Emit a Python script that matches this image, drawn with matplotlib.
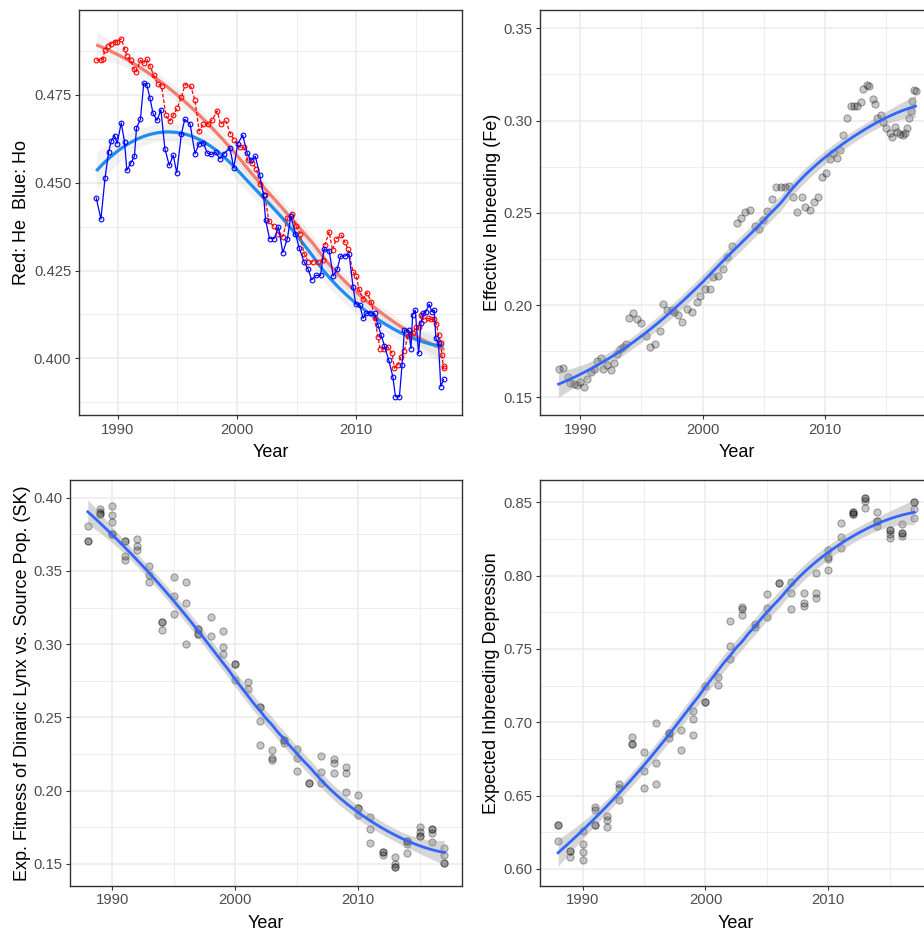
import numpy as np
import matplotlib
matplotlib.use("Agg")
import matplotlib.pyplot as plt
from matplotlib.ticker import FixedLocator, FormatStrFormatter

plt.rcParams['font.family'] = ['Liberation Sans', 'DejaVu Sans']

# ---------------- Panel 1: He (red) and Ho (blue) ----------------
ho_year = [1988.19, 1988.58, 1988.92, 1989.22, 1989.44, 1989.72, 1989.94, 1990.28, 1990.56, 1990.75,
           1991.11, 1991.39, 1991.56, 1991.89, 1992.17, 1992.42, 1992.69, 1992.94, 1993.28, 1993.61,
           1993.94, 1994.31, 1994.64, 1994.94, 1995.33, 1995.61, 1996.06, 1996.47, 1996.81, 1997.17,
           1997.50, 1997.83, 1998.19, 1998.56, 1998.89, 1999.39, 1999.72, 2000.06, 2000.47, 2000.83,
           2001.17, 2001.53, 2001.89, 2002.22, 2002.39, 2002.72, 2003.11, 2003.47, 2003.83, 2004.22,
           2004.50, 2004.89, 2005.22, 2005.61, 2005.97, 2006.25, 2006.61, 2007.00, 2007.28, 2007.72,
           2008.06, 2008.39, 2008.67, 2009.03, 2009.39, 2009.72, 2009.94, 2010.28, 2010.56, 2010.83,
           2011.17, 2011.53, 2011.81, 2012.08, 2012.36, 2012.72, 2013.06, 2013.28, 2013.61, 2013.83,
           2014.03, 2014.39, 2014.58, 2014.72, 2014.94, 2015.22, 2015.42, 2015.61, 2015.83, 2016.11,
           2016.33, 2016.53, 2016.67, 2016.89, 2017.08, 2017.31]
ho_val = [0.4456, 0.4396, 0.4512, 0.4586, 0.4618, 0.4634, 0.4611, 0.4670, 0.4616, 0.4535,
          0.4557, 0.4575, 0.4655, 0.4680, 0.4783, 0.4779, 0.4741, 0.4698, 0.4677, 0.4707,
          0.4597, 0.4549, 0.4578, 0.4528, 0.4639, 0.4680, 0.4666, 0.4582, 0.4611, 0.4613,
          0.4584, 0.4580, 0.4586, 0.4568, 0.4582, 0.4599, 0.4542, 0.4611, 0.4635, 0.4585,
          0.4563, 0.4575, 0.4523, 0.4464, 0.4393, 0.4341, 0.4341, 0.4374, 0.4301, 0.4341,
          0.4404, 0.4355, 0.4313, 0.4275, 0.4253, 0.4223, 0.4236, 0.4236, 0.4310, 0.4306,
          0.4234, 0.4253, 0.4291, 0.4291, 0.4296, 0.4204, 0.4156, 0.4152, 0.4114, 0.4128,
          0.4130, 0.4128, 0.4095, 0.4066, 0.4035, 0.3995, 0.3948, 0.3891, 0.3891, 0.3981,
          0.4080, 0.4080, 0.4028, 0.4123, 0.4137, 0.4014, 0.4101, 0.4128, 0.4133, 0.4154,
          0.4133, 0.4137, 0.4057, 0.4043, 0.3920, 0.3940]

he_year = [1988.19, 1988.56, 1988.75, 1988.89, 1989.17, 1989.44, 1989.72, 1989.94, 1990.28, 1990.56,
           1990.78, 1991.06, 1991.33, 1991.53, 1991.89, 1992.17, 1992.42, 1992.69, 1993.00, 1993.33,
           1993.67, 1994.03, 1994.36, 1994.64, 1995.00, 1995.33, 1995.64, 1996.11, 1996.47, 1996.81,
           1997.17, 1997.56, 1997.92, 1998.33, 1998.61, 1999.03, 1999.44, 1999.78, 2000.22, 2000.56,
           2000.89, 2001.25, 2001.61, 2001.94, 2002.31, 2002.67, 2003.06, 2003.47, 2003.83, 2004.22,
           2004.58, 2004.94, 2005.28, 2005.61, 2005.97, 2006.39, 2006.81, 2007.17, 2007.36, 2007.72,
           2008.00, 2008.33, 2008.75, 2009.03, 2009.31, 2009.72, 2010.00, 2010.22, 2010.56, 2010.89,
           2011.25, 2011.53, 2011.81, 2012.00, 2012.36, 2012.64, 2013.00, 2013.19, 2013.47, 2013.75,
           2014.03, 2014.31, 2014.50, 2014.72, 2015.00, 2015.22, 2015.42, 2015.69, 2015.97, 2016.25,
           2016.53, 2016.72, 2016.89, 2017.08, 2017.17, 2017.31, 2017.39]
he_val = [0.4849, 0.4848, 0.4852, 0.4876, 0.4890, 0.4895, 0.4900, 0.4900, 0.4909, 0.4881,
          0.4859, 0.4849, 0.4824, 0.4815, 0.4848, 0.4840, 0.4852, 0.4833, 0.4805, 0.4781,
          0.4774, 0.4691, 0.4675, 0.4691, 0.4713, 0.4743, 0.4779, 0.4774, 0.4734, 0.4647,
          0.4666, 0.4668, 0.4679, 0.4704, 0.4666, 0.4677, 0.4639, 0.4620, 0.4601, 0.4601,
          0.4563, 0.4556, 0.4540, 0.4497, 0.4464, 0.4390, 0.4376, 0.4355, 0.4346, 0.4398,
          0.4412, 0.4376, 0.4355, 0.4298, 0.4275, 0.4275, 0.4275, 0.4279, 0.4322, 0.4360,
          0.4308, 0.4341, 0.4350, 0.4331, 0.4310, 0.4246, 0.4234, 0.4196, 0.4170, 0.4187,
          0.4161, 0.4114, 0.4062, 0.4026, 0.4028, 0.4033, 0.4014, 0.3972, 0.3981, 0.4005,
          0.4022, 0.4063, 0.4069, 0.4071, 0.4090, 0.4088, 0.4123, 0.4109, 0.4114, 0.4111,
          0.4111, 0.4098, 0.4066, 0.4045, 0.4009, 0.3972, 0.3978]

# ---------------- Panel 2: Effective inbreeding (Fe) ----------------
fe_year = [1988.23, 1988.58, 1988.97, 1989.18, 1989.46, 1989.73, 1989.95, 1990.33, 1990.54, 1990.87,
           1991.09, 1991.36, 1991.69, 1991.90, 1992.18, 1992.50, 1992.72, 1992.99, 1993.27, 1993.48,
           1993.70, 1994.00, 1994.30, 1994.68, 1994.98, 1995.36, 1995.71, 1996.07, 1996.48, 1996.80,
           1997.13, 1997.48, 1997.67, 1998.00, 1998.30, 1998.71, 1999.12, 1999.52, 1999.80, 2000.20,
           2000.61, 2000.88, 2001.29, 2001.70, 2001.97, 2002.38, 2002.79, 2003.12, 2003.47, 2003.88,
           2004.29, 2004.61, 2004.97, 2005.24, 2005.70, 2006.00, 2006.38, 2006.73, 2007.06, 2007.36,
           2007.69, 2008.10, 2008.37, 2008.78, 2009.10, 2009.40, 2009.78, 2010.08, 2010.41, 2010.68,
           2010.95, 2011.22, 2011.50, 2011.77, 2012.10, 2012.37, 2012.65, 2012.92, 2013.13, 2013.40,
           2013.62, 2013.89, 2014.08, 2014.27, 2014.54, 2014.76, 2014.98, 2015.31, 2015.50, 2015.71,
           2015.90, 2016.12, 2016.34, 2016.53, 2016.72, 2016.88, 2016.99, 2017.12, 2017.26, 2017.39]
fe_val = [0.1654, 0.1661, 0.1608, 0.1580, 0.1572, 0.1567, 0.1581, 0.1554, 0.1599, 0.1639,
          0.1654, 0.1699, 0.1711, 0.1654, 0.1675, 0.1648, 0.1688, 0.1733, 0.1760, 0.1775,
          0.1787, 0.1928, 0.1955, 0.1925, 0.1901, 0.1834, 0.1775, 0.1787, 0.1861, 0.2006,
          0.1973, 0.1973, 0.1964, 0.1946, 0.1907, 0.1977, 0.1961, 0.2019, 0.2051, 0.2085,
          0.2085, 0.2154, 0.2158, 0.2194, 0.2263, 0.2322, 0.2443, 0.2470, 0.2503, 0.2516,
          0.2431, 0.2411, 0.2461, 0.2512, 0.2575, 0.2642, 0.2642, 0.2642, 0.2647, 0.2584,
          0.2505, 0.2588, 0.2530, 0.2516, 0.2557, 0.2588, 0.2696, 0.2718, 0.2790, 0.2823,
          0.2796, 0.2841, 0.2922, 0.3016, 0.3076, 0.3076, 0.3076, 0.3103, 0.3170, 0.3193,
          0.3188, 0.3115, 0.3088, 0.3012, 0.3031, 0.2994, 0.2962, 0.2935, 0.2909, 0.2964,
          0.2937, 0.2928, 0.2922, 0.2931, 0.2958, 0.3012, 0.3049, 0.3108, 0.3166, 0.3162]

# ---------------- Panel 3: Expected fitness vs source population ----------------
fit_year = [1988, 1988, 1988, 1989, 1989, 1989, 1989, 1990, 1990, 1990, 1990, 1990,
            1991, 1991, 1991, 1991, 1992, 1992, 1992, 1993, 1993, 1993, 1994, 1994, 1994,
            1995, 1995, 1995, 1996, 1996, 1996, 1997, 1997, 1997, 1997, 1998, 1998,
            1999, 1999, 1999, 2000, 2000, 2000, 2001, 2001, 2002, 2002, 2002, 2002,
            2003, 2003, 2003, 2004, 2004, 2004, 2005, 2005, 2005, 2006, 2006,
            2007, 2007, 2007, 2008, 2008, 2008, 2009, 2009, 2009, 2010, 2010, 2010, 2010,
            2011, 2011, 2011, 2012, 2012, 2012, 2013, 2013, 2013, 2013,
            2014, 2014, 2014, 2014, 2015, 2015, 2015, 2015, 2016, 2016, 2016, 2016,
            2017, 2017, 2017, 2017]
fit_val = [0.3809, 0.3704, 0.3704, 0.3920, 0.3905, 0.3886, 0.3886, 0.3941, 0.3882, 0.3832, 0.3752, 0.3752,
           0.3704, 0.3704, 0.3604, 0.3574, 0.3718, 0.3672, 0.3640, 0.3533, 0.3472, 0.3422, 0.3153, 0.3153, 0.3096,
           0.3456, 0.3328, 0.3205, 0.3422, 0.3283, 0.3003, 0.3103, 0.3103, 0.3069, 0.3069, 0.3187, 0.3055,
           0.3089, 0.2980, 0.2930, 0.2862, 0.2862, 0.2755, 0.2743, 0.2693, 0.2568, 0.2568, 0.2477, 0.2311,
           0.2274, 0.2224, 0.2206, 0.2342, 0.2342, 0.2324, 0.2283, 0.2224, 0.2135, 0.2049, 0.2049,
           0.2235, 0.2128, 0.2049, 0.2213, 0.2190, 0.2117, 0.2160, 0.2117, 0.1992, 0.1967, 0.1883, 0.1883, 0.1832,
           0.1817, 0.1735, 0.1643, 0.1582, 0.1582, 0.1559, 0.1548, 0.1498, 0.1475, 0.1475,
           0.1657, 0.1657, 0.1634, 0.1575, 0.1753, 0.1719, 0.1689, 0.1689, 0.1735, 0.1735, 0.1712, 0.1650,
           0.1609, 0.1559, 0.1502, 0.1502]

# ---------------- Panel 4: Expected inbreeding depression ----------------
idp_year = [1988, 1988, 1988, 1989, 1989, 1989, 1990, 1990, 1990, 1990,
            1991, 1991, 1991, 1991, 1992, 1992, 1992, 1993, 1993, 1993, 1994, 1994, 1994,
            1995, 1995, 1995, 1996, 1996, 1996, 1997, 1997, 1997, 1998, 1998,
            1999, 1999, 1999, 2000, 2000, 2000, 2001, 2001, 2002, 2002, 2002,
            2003, 2003, 2003, 2004, 2004, 2005, 2005, 2005, 2006, 2006,
            2007, 2007, 2007, 2008, 2008, 2008, 2009, 2009, 2009, 2010, 2010, 2010, 2010,
            2011, 2011, 2011, 2012, 2012, 2012, 2012, 2013, 2013, 2013, 2013,
            2014, 2014, 2014, 2014, 2015, 2015, 2015, 2015, 2016, 2016, 2016, 2016,
            2017, 2017, 2017, 2017]
idp_val = [0.6300, 0.6300, 0.6193, 0.6125, 0.6125, 0.6084, 0.6261, 0.6168, 0.6118, 0.6059,
           0.6425, 0.6402, 0.6300, 0.6300, 0.6361, 0.6334, 0.6289, 0.6577, 0.6550, 0.6470, 0.6902, 0.6855, 0.6855,
           0.6796, 0.6671, 0.6555, 0.6993, 0.6721, 0.6577, 0.6930, 0.6930, 0.6896, 0.6946, 0.6811,
           0.7077, 0.7021, 0.6914, 0.7250, 0.7137, 0.7137, 0.7312, 0.7255, 0.7691, 0.7521, 0.7432,
           0.7789, 0.7771, 0.7732, 0.7671, 0.7648, 0.7873, 0.7782, 0.7721, 0.7948, 0.7948,
           0.7959, 0.7880, 0.7773, 0.7880, 0.7812, 0.7793, 0.8016, 0.7880, 0.7846, 0.8175, 0.8130, 0.8112, 0.8039,
           0.8357, 0.8266, 0.8187, 0.8437, 0.8437, 0.8421, 0.8421, 0.8528, 0.8528, 0.8512, 0.8459,
           0.8432, 0.8373, 0.8373, 0.8341, 0.8312, 0.8312, 0.8282, 0.8255, 0.8350, 0.8289, 0.8289, 0.8271,
           0.8505, 0.8505, 0.8453, 0.8391]

x_ticks = [1990, 2000, 2010]


def loess(x, y, grid, span=0.75):
    """Local quadratic regression (tricube weights) with an approximate 95% band."""
    x = np.asarray(x, float)
    y = np.asarray(y, float)
    n = len(x)
    q = int(np.floor(n * span))

    def row(x0):
        d = np.abs(x - x0)
        h = np.sort(d)[q - 1]
        u = np.clip(d / h, 0, 1)
        w = (1 - u ** 3) ** 3
        X = np.column_stack([np.ones(n), x - x0, (x - x0) ** 2])
        XtW = X.T * w
        return np.linalg.solve(XtW @ X, XtW)[0]

    L = np.array([row(v) for v in x])
    res = y - L @ y
    M = (np.eye(n) - L).T @ (np.eye(n) - L)
    d1 = np.trace(M)
    d2 = np.trace(M @ M)
    sigma = np.sqrt(np.sum(res ** 2) / d1)
    df = d1 ** 2 / d2
    Lg = np.array([row(v) for v in grid])
    yg = Lg @ y
    se = sigma * np.sqrt(np.sum(Lg ** 2, axis=1))
    t = 1.96 + 2.4 / df
    return yg, se * t


W, H = 924, 933
fig = plt.figure(figsize=(W / 100, H / 100), dpi=100)
fig.patch.set_facecolor('white')


def make_axes(left, top, right, bottom):
    return fig.add_axes([left / W, 1 - bottom / H, (right - left) / W, (bottom - top) / H])


def style(ax, xlim, ylim, yticks, yminor, fmt, ylabel, ylab_x):
    ax.set_xlim(*xlim)
    ax.set_ylim(*ylim)
    ax.xaxis.set_major_locator(FixedLocator(x_ticks))
    ax.xaxis.set_minor_locator(FixedLocator([1995, 2005, 2015]))
    ax.yaxis.set_major_locator(FixedLocator(yticks))
    ax.yaxis.set_minor_locator(FixedLocator(yminor))
    ax.yaxis.set_major_formatter(FormatStrFormatter(fmt))
    ax.grid(True, which='major', color='#EBEBEB', lw=1.1, zorder=0)
    ax.grid(True, which='minor', color='#EBEBEB', lw=0.6, zorder=0)
    ax.set_axisbelow(True)
    for s in ax.spines.values():
        s.set_color('#333333')
        s.set_linewidth(1.0)
    ax.tick_params(which='major', length=3, width=0.8, color='#333333',
                   labelsize=10.7, labelcolor='#4D4D4D', pad=2.5)
    ax.tick_params(which='minor', length=0)
    ax.set_xlabel('Year', fontsize=13, color='black')
    ax.set_ylabel(ylabel, fontsize=13, color='black')
    ax.xaxis.set_label_coords(0.5, -0.072)
    ax.yaxis.set_label_coords(ylab_x, 0.5)


# ---- Panel 1
ax1 = make_axes(79, 10, 462, 415)
for yr, vl, sc in [(he_year, he_val, '#F47C6F'), (ho_year, ho_val, '#1E8CF0')]:
    g = np.linspace(min(yr), max(yr), 120)
    f, ci = loess(yr, vl, g)
    ax1.fill_between(g, f - ci, f + ci, color='#999999', alpha=0.12, lw=0, zorder=1)
    ax1.plot(g, f, color=sc, lw=2.3, zorder=2, solid_capstyle='butt')
for yr, vl, lc, ls in [(he_year, he_val, 'red', (0, (3, 1.5))), (ho_year, ho_val, 'blue', '-')]:
    ax1.plot(yr, vl, color=lc, lw=0.9, ls=ls, marker='o', ms=3.4, mfc='none', mec=lc,
             mew=0.8, zorder=3)
style(ax1, (1986.74, 2018.86), (0.3839, 0.4991), [0.400, 0.425, 0.450, 0.475],
      [0.3875, 0.4125, 0.4375, 0.4625, 0.4875], '%.3f', 'Red: He  Blue: Ho', -0.128)


def scatter_panel(ax, yr, vl):
    ax.scatter(yr, vl, s=27, facecolor=(0, 0, 0, 0.22), edgecolor=(0, 0, 0, 0.35),
               linewidths=0.7, zorder=2)
    g = np.linspace(min(yr), max(yr), 120)
    f, ci = loess(yr, vl, g)
    ax.fill_between(g, f - ci, f + ci, color='#999999', alpha=0.4, lw=0, zorder=3)
    ax.plot(g, f, color='#3366FF', lw=2.0, zorder=4)


# ---- Panel 2
ax2 = make_axes(540.3, 10, 933.5, 415)
scatter_panel(ax2, fe_year, fe_val)
style(ax2, (1986.74, 2018.86), (0.1404, 0.3599), [0.15, 0.20, 0.25, 0.30, 0.35],
      [0.175, 0.225, 0.275, 0.325], '%.2f', 'Effective Inbreeding (Fe)', -0.100)

# ---- Panel 3
ax3 = make_axes(70, 480, 462, 885.7)
scatter_panel(ax3, fit_year, fit_val)
style(ax3, (1986.55, 2018.45), (0.135, 0.4121), [0.15, 0.20, 0.25, 0.30, 0.35, 0.40],
      [0.175, 0.225, 0.275, 0.325, 0.375], '%.2f',
      'Exp. Fitness of Dinaric Lynx vs. Source Pop. (SK)', -0.100)

# ---- Panel 4
ax4 = make_axes(540.3, 480, 932, 885.7)
scatter_panel(ax4, idp_year, idp_val)
style(ax4, (1986.55, 2018.45), (0.5886, 0.8652), [0.60, 0.65, 0.70, 0.75, 0.80, 0.85],
      [0.625, 0.675, 0.725, 0.775, 0.825], '%.2f', 'Expected Inbreeding Depression', -0.102)

fig.savefig('out.png', dpi=100, facecolor='white')
